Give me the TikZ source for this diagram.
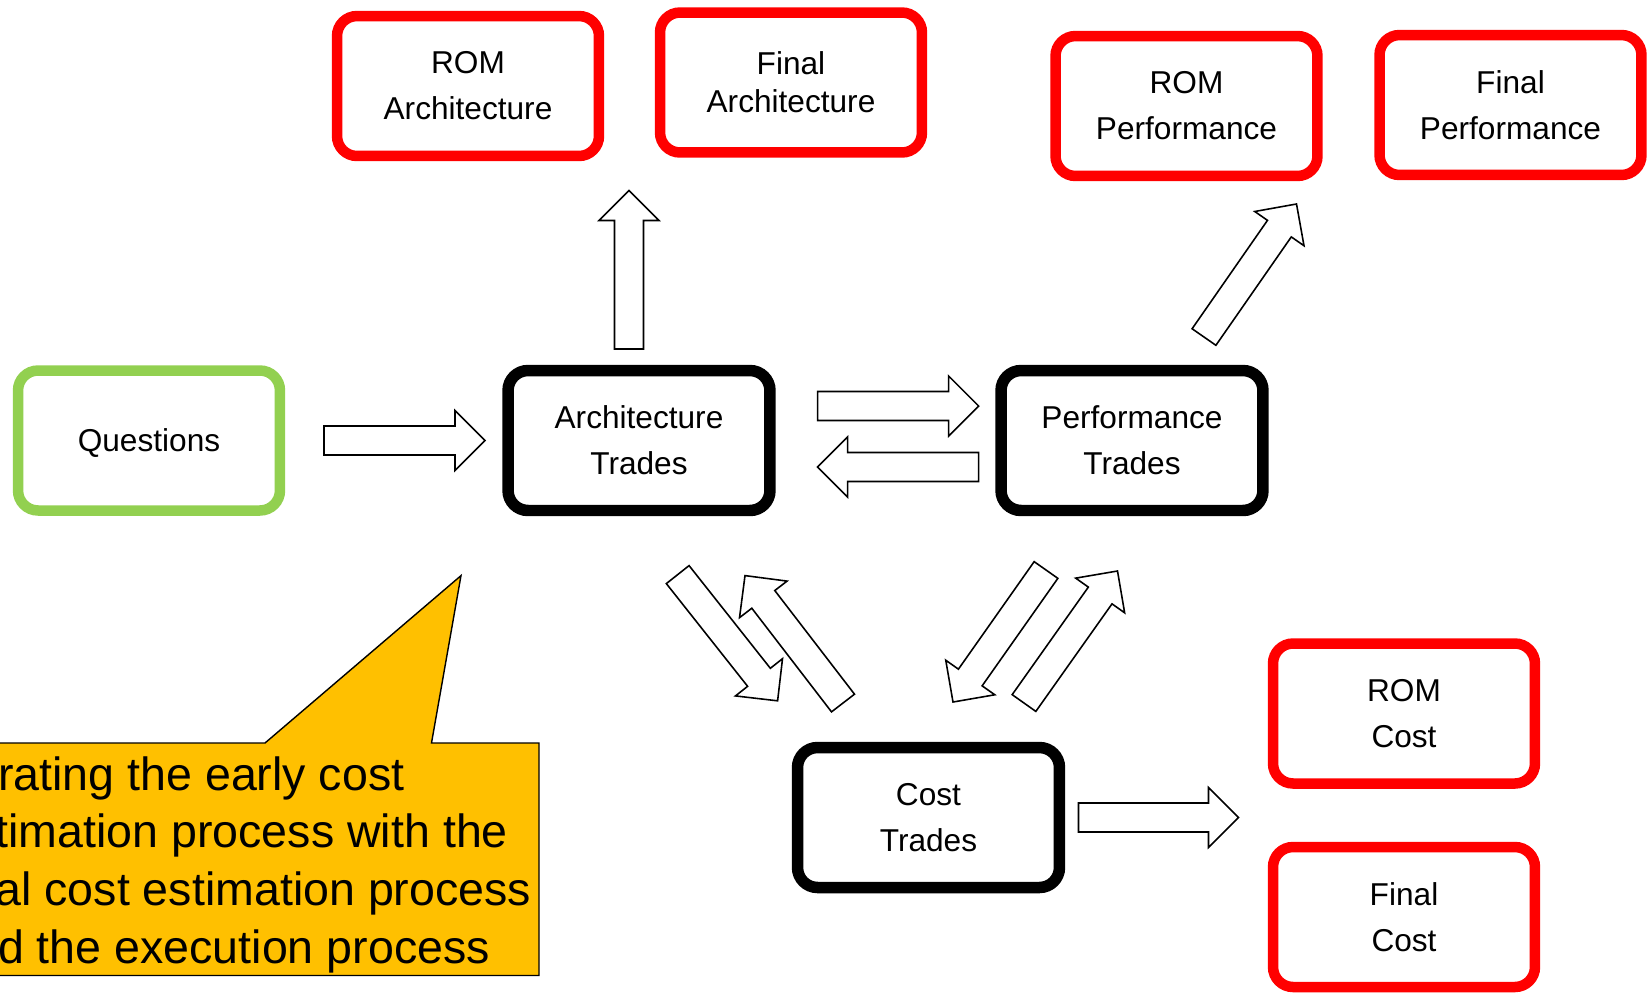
\documentclass[tikz,border=0pt]{standalone}
\usepackage{fontspec}
\setmainfont{Liberation Sans}
\usetikzlibrary{calc}
\definecolor{qgreen}{HTML}{92D050}
\definecolor{noteyellow}{HTML}{FFC000}
\newcommand{\blockarrow}[2]{%
 \coordinate (bt) at #1;
 \coordinate (bp) at #2;
 \coordinate (bb) at ($(bp)!0.6cm!(bt)$);
 \draw[blockarrow] ($(bt)!0.29cm!90:(bp)$) -- ($(bb)!0.29cm!90:(bp)$) -- ($(bb)!0.6cm!90:(bp)$) -- (bp) -- ($(bb)!0.6cm!-90:(bp)$) -- ($(bb)!0.29cm!-90:(bp)$) -- ($(bt)!0.29cm!-90:(bp)$) -- cycle;}
\begin{document}
\begin{tikzpicture}[x=0.02cm,y=-0.02cm,
 basebox/.style={draw,fill=white,rounded corners=0.4cm,line width=0.21cm,outer sep=0pt,minimum width=5.24cm,minimum height=2.8cm,align=center,font=\fontsize{18}{26.2}\selectfont},
 qbox/.style={basebox,draw=qgreen},
 tradebox/.style={basebox,draw=black,line width=0.23cm},
 outbox/.style={basebox,draw=red},
 blockarrow/.style={draw=black,fill=white,line width=0.9pt}]
 \clip (0,0) rectangle (1650,992);
 \node[qbox,text height=12.9pt,text depth=0pt] (q) at (149,440.5) {Questions};
 \node[tradebox] (a) at (639,440.5) {Architecture\\Trades};
 \node[tradebox] (p) at (1132,440.5) {Performance\\Trades};
 \node[tradebox] (c) at (928.5,817.5) {Cost\\Trades};
 \node[outbox] (ra) at (468,86) {ROM\\Architecture};
 \node[outbox,font=\fontsize{18}{21.6}\selectfont] (fa) at (791,82.5) {Final\\Architecture};
 \node[outbox] (rp) at (1186.5,106) {ROM\\Performance};
 \node[outbox] (fp) at (1510.5,105) {Final\\Performance};
 \node[outbox] (rc) at (1404,713.5) {ROM\\Cost};
 \node[outbox] (fc) at (1404,917) {Final\\Cost};
 \blockarrow{($(q.east)+(44,0)$)}{($(a.west)+(-23,0)$)}
 \blockarrow{($(a.east)+(47.6,-34.5)$)}{($(p.west)+(-22.4,-34.5)$)}
 \blockarrow{($(p.west)+(-22.4,26.5)$)}{($(a.east)+(47.6,26.5)$)}
 \blockarrow{($(a.north)+(-10,-21.5)$)}{($(a.north)+(-10,-180)$)}
 \blockarrow{($(c.east)+(19,0)$)}{($(c.east)+(179,0)$)}
 \blockarrow{($(p.north)+(72,-33.5)$)}{($(rp.south)+(110,28)$)}
 \blockarrow{($(a.south)+(38.7,64.1)$)}{($(c.north)+(-150.9,-46.7)$)}
 \blockarrow{($(c.north)+(-85.5,-44.5)$)}{($(a.south)+(106,65.1)$)}
 \blockarrow{($(p.south)+(-86,59.5)$)}{($(c.north)+(24.5,-45.5)$)}
 \blockarrow{($(c.north)+(95.5,-44.5)$)}{($(p.south)+(-14.5,60.5)$)}
 \draw[fill=noteyellow,line width=0.8pt] (-20,743) -- (265,743) -- (461,575.6) -- (431.5,743) -- (539,743) -- (539,975.5) -- (-20,975.5) -- cycle;
 \node[anchor=north west,align=left,inner sep=0pt,font=\fontsize{26.5}{32.9}\selectfont] (note) at (-54,756) {Iterating the early cost\\estimation process with the\\final cost estimation process\\and the execution process};
\end{tikzpicture}
\end{document}
